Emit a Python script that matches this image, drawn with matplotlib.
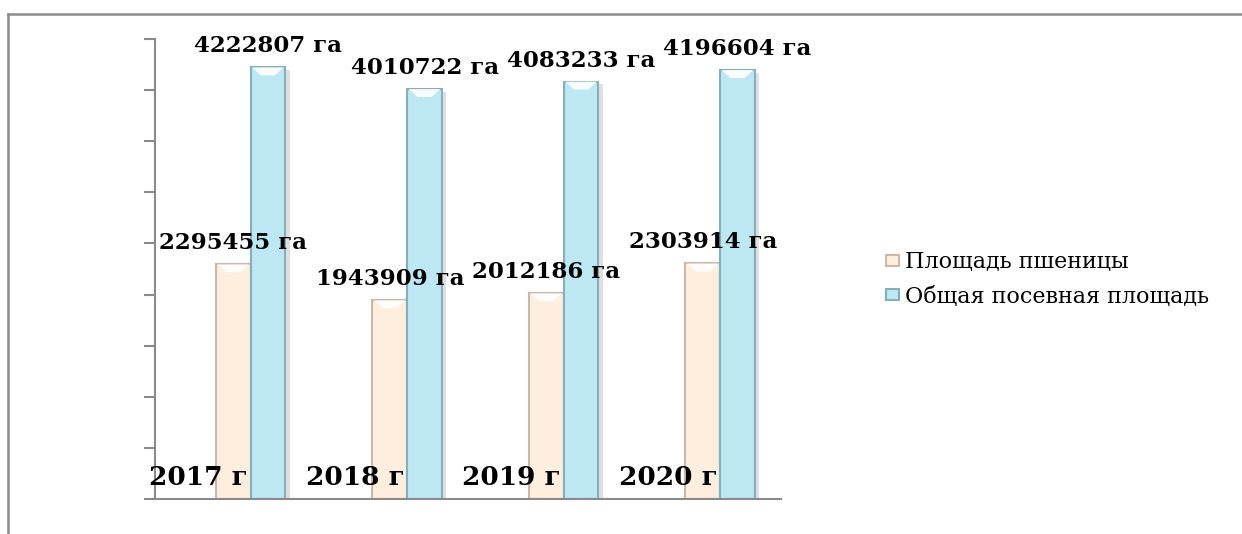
import matplotlib
matplotlib.use("Agg")
import matplotlib.pyplot as plt
import numpy as np
from matplotlib.lines import Line2D
from matplotlib.patches import Polygon
import matplotlib.patheffects as pe

# Data
years = [2017, 2018, 2019, 2020]
wheat_area = [2295455, 1943909, 2012186, 2303914]
total_area = [4222807, 4010722, 4083233, 4196604]
series_names = ["Площадь пшеницы", "Общая посевная площадь"]
year_suffix = " г"
area_suffix = " га"

W, H, DPI = 1242, 534, 100
fig = plt.figure(figsize=(W / DPI, H / DPI), dpi=DPI)
fig.patch.set_facecolor("white")

# Outer frame (top and left edges)
frame_col = "#8c8c8c"
fig.add_artist(Line2D([8 / W, 1.0], [1 - 13.5 / H, 1 - 13.5 / H], color=frame_col, lw=1.8,
                      transform=fig.transFigure))
fig.add_artist(Line2D([8 / W, 8 / W], [0, 1 - 13.5 / H], color=frame_col, lw=1.8,
                      transform=fig.transFigure))

x0, x1, ytop, ybot = 155, 781, 39, 499
ax = fig.add_axes([x0 / W, 1 - ybot / H, (x1 - x0) / W, (ybot - ytop) / H])
ax.set_xlim(-0.5, len(years) - 0.5)
ax.set_ylim(0, 4500000)

axis_col = "#8a8a8a"
for s in ["top", "right"]:
    ax.spines[s].set_visible(False)
for s in ["left", "bottom"]:
    ax.spines[s].set_color(axis_col)
    ax.spines[s].set_linewidth(1.5)
ax.set_yticks(np.arange(0, 4500001, 500000))
ax.set_yticklabels([])
ax.tick_params(axis="y", direction="out", length=8, width=1.5, color=axis_col)
ax.set_xticks([])

x = np.arange(len(years))
w = 1 / 4.5

wheat_col, wheat_edge = "#fdeedd", "#cbb8a8"
total_col, total_edge = "#bde8f3", "#86aebb"
year_col = "#c9dcee"

shadow = [pe.SimplePatchShadow(offset=(3, -2), alpha=0.18, shadow_rgbFace="#555555"), pe.Normal()]

b_year = ax.bar(x - w, years, w, color=year_col, edgecolor=year_col, lw=1.2, zorder=2)
b_wheat = ax.bar(x, wheat_area, w, color=wheat_col, edgecolor=wheat_edge, lw=1.5, zorder=2,
                 label=series_names[0])
b_total = ax.bar(x + w, total_area, w, color=total_col, edgecolor=total_edge, lw=1.5, zorder=2,
                 label=series_names[1])
for b in list(b_wheat) + list(b_total):
    b.set_path_effects(shadow)

# Bevel highlight at the top of each bar
inv = ax.transData.inverted()
def px_to_data_h(px):
    p0 = inv.transform((0, 0))
    p1 = inv.transform((0, px))
    return p1[1] - p0[1]

depth = px_to_data_h(8)
for b in list(b_wheat) + list(b_total):
    bx, bw, bh = b.get_x(), b.get_width(), b.get_height()
    poly = Polygon([(bx + bw * 0.04, bh), (bx + bw * 0.96, bh),
                    (bx + bw * 0.70, bh - depth), (bx + bw * 0.30, bh - depth)],
                   closed=True, facecolor="white", alpha=0.9, edgecolor="none", zorder=3)
    ax.add_patch(poly)

area_font = dict(family="DejaVu Serif", weight="bold", size=16.5, color="black")
year_font = dict(family="DejaVu Serif", weight="bold", size=19, color="black")
for bars, vals, suf, font in [(b_year, years, year_suffix, year_font),
                              (b_wheat, wheat_area, area_suffix, area_font),
                              (b_total, total_area, area_suffix, area_font)]:
    for b, v in zip(bars, vals):
        ax.annotate(f"{v}{suf}", (b.get_x() + b.get_width() / 2, b.get_height()),
                    xytext=(0, 21), textcoords="offset pixels", ha="center", va="center",
                    zorder=5, annotation_clip=False, **font)

leg = fig.legend(handles=[b_wheat, b_total], labels=series_names,
                 loc="center left", bbox_to_anchor=(886 / W, 1 - 279.5 / H),
                 frameon=False, prop=dict(family="DejaVu Serif", size=16),
                 handlelength=0.6, handleheight=0.4, handletextpad=0.25,
                 labelspacing=0.55, borderpad=0, borderaxespad=0)
for h in leg.legend_handles:
    h.set_path_effects([])

fig.savefig("out.png", dpi=DPI, facecolor="white")
